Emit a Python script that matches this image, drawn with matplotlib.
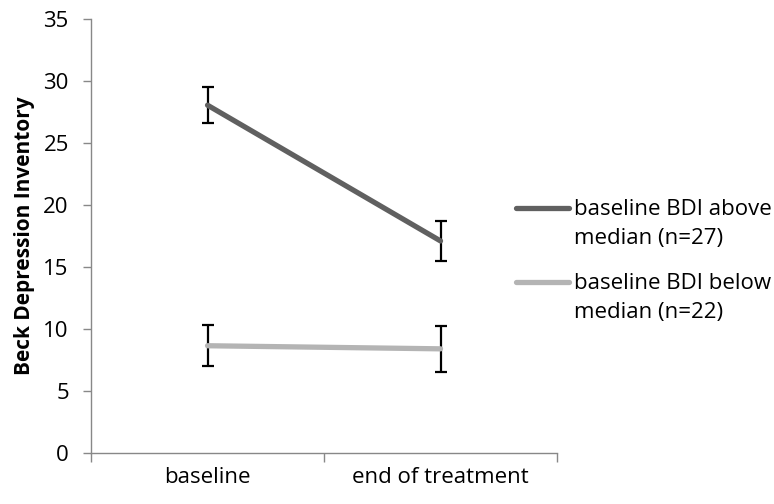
import numpy as np
import matplotlib.pyplot as plt
from matplotlib.legend_handler import HandlerLine2D

plt.rcParams['font.family'] = ['Open Sans', 'DejaVu Sans']

# group means and error bar half-widths at each time point
timepoints = ["baseline", "end of treatment"]
above_mean = [28.05, 17.1]
above_err = [1.45, 1.62]
below_mean = [8.65, 8.4]
below_err = [1.67, 1.84]
labels = ["baseline BDI above\nmedian (n=27)", "baseline BDI below\nmedian (n=22)"]


class TopLine(HandlerLine2D):
    # keep the legend line level with the first line of a two-line label
    def create_artists(self, legend, orig_handle, xdescent, ydescent, width,
                       height, fontsize, trans):
        return super().create_artists(legend, orig_handle, xdescent,
                                      ydescent - 1.5 * fontsize, width, height,
                                      fontsize, trans)


fig = plt.figure(figsize=(7.74, 5.04), dpi=100)
ax = fig.add_axes([0.1176, 0.1012, 0.6021, 0.8611])

x = np.arange(len(timepoints)) + 0.5

lines = []
for mean, err, col, lab in [(above_mean, above_err, "#606060", labels[0]),
                            (below_mean, below_err, "#b4b4b4", labels[1])]:
    ax.errorbar(x, mean, yerr=err, fmt="none", ecolor="black", elinewidth=1.6,
                capsize=4, capthick=1.6, zorder=2)
    ln, = ax.plot(x, mean, color=col, lw=3.8, solid_capstyle="round", label=lab, zorder=3)
    lines.append(ln)

ax.set_xlim(0, 2)
ax.set_ylim(0, 35)
ax.set_yticks(np.arange(0, 36, 5))
ax.set_xticks([0, 1, 2])
ax.set_xticklabels([])
ax.set_xticks(x, minor=True)
ax.set_xticklabels(timepoints, minor=True)
ax.tick_params(axis="x", which="minor", length=0, pad=10, labelsize=16)
ax.tick_params(axis="x", which="major", length=6.5, color="#888888", width=1)
ax.tick_params(axis="y", length=6, color="#888888", width=1, labelsize=16, pad=10)

for side in ["top", "right"]:
    ax.spines[side].set_visible(False)
for side in ["left", "bottom"]:
    ax.spines[side].set_color("#888888")
    ax.spines[side].set_linewidth(1)

ax.set_ylabel("Beck Depression Inventory", fontsize=15, fontweight="bold", labelpad=6)

leg = fig.legend(lines, labels, loc="upper left", bbox_to_anchor=(516 / 774, 1 - 199 / 504),
                 frameon=False, fontsize=16, borderpad=0, borderaxespad=0,
                 handlelength=2.4, handletextpad=0.2, labelspacing=1.1,
                 handler_map={ln: TopLine() for ln in lines})
for t in leg.get_texts():
    t.set_linespacing(1.5)

fig.savefig("out.png", dpi=100)
